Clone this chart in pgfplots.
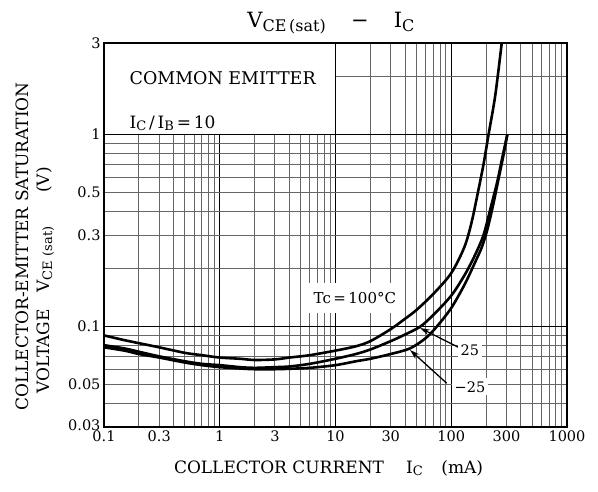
\documentclass[border=0pt]{standalone}
\usepackage{fontspec}
\setmainfont{DejaVu Serif}
\usepackage{pgfplots}
\pgfplotsset{compat=1.18}
\usetikzlibrary{arrows.meta}

% lowered smaller letters, as in V_CE(sat) and I_C
\newcommand{\sub}[2][12bp]{\raisebox{-0.3ex}{\fontsize{#1}{#1}\selectfont #2}}

\begin{document}
\begin{tikzpicture}[font=\fontsize{14.5bp}{17bp}\selectfont]
\begin{axis}[
    name=a,
    xmode=log, ymode=log,
    scale only axis, width=463bp, height=384bp,
    xmin=0.1, xmax=1000, ymin=0.03, ymax=3,
    xtick={0.1,1,10,100,1000}, xticklabels={0.1,1,10,100,1000},
    extra x ticks={0.3,3,30,300}, extra x tick labels={0.3,3,30,300},
    minor xtick={0.2,0.3,0.4,0.5,0.6,0.7,0.8,0.9,2,3,4,5,6,7,8,9,
                 20,30,40,50,60,70,80,90,200,300,400,500,600,700,800,900},
    ytick={0.1,1}, yticklabels={0.1,1},
    extra y ticks={0.03,0.05,0.3,0.5,3},
    extra y tick labels={\raisebox{4bp}{0.03},0.05,0.3,0.5,3},
    minor ytick={0.04,0.05,0.06,0.07,0.08,0.09,0.2,0.3,0.4,0.5,0.6,0.7,0.8,0.9,2},
    extra x tick style={grid=none}, extra y tick style={grid=none},
    grid=both,
    major grid style={black, line width=1.1bp},
    minor grid style={black!60, line width=1bp},
    major tick length=0pt, minor tick length=0pt,
    axis line style={line width=2.4bp},
    /pgf/number format/assume math mode=true,
    title={V\sub[16bp]{CE\,(sat)}\hspace{1.2em}−\hspace{1.2em}I\sub[16bp]{C}},
    title style={font=\fontsize{21bp}{23bp}\selectfont, at={(axis description cs:0.49,1.0)}, anchor=south},
    xlabel={COLLECTOR CURRENT\hspace{1.3em}I\sub[13bp]{C}\hspace{1.1em}(mA)},
    xlabel style={font=\fontsize{17bp}{20bp}\selectfont, at={(axis description cs:0.485,-0.107)}, anchor=center},
    ylabel={COLLECTOR-EMITTER SATURATION\\\hspace*{1em}VOLTAGE\hspace{1em}V\sub[13bp]{CE (sat)}\hspace{2em}(V)},
    ylabel style={font=\fontsize{17bp}{21bp}\selectfont, align=left, at={(axis description cs:-0.10,0.47)}, anchor=south},
]
% Tc = 100 C
\addplot[black, line width=2.6bp, smooth] coordinates {
(0.1,0.090)(0.15,0.085)(0.2,0.082)(0.3,0.078)(0.5,0.073)(0.7,0.071)(1,0.069)
(1.5,0.068)(2,0.067)(3,0.0675)(4,0.069)(6,0.071)(10,0.075)(15,0.079)(20,0.084)
(30,0.097)(40,0.11)(50,0.122)(70,0.148)(100,0.19)(130,0.26)(150,0.35)(170,0.50)
(190,0.70)(210,1.0)(240,1.6)(273,3.0)
};
% Tc = 25 C
\addplot[black, line width=2.6bp, smooth] coordinates {
(0.1,0.080)(0.15,0.077)(0.2,0.074)(0.3,0.070)(0.5,0.066)(0.7,0.064)(1,0.063)
(1.5,0.0615)(2,0.061)(3,0.0615)(4,0.062)(6,0.064)(10,0.068)(15,0.072)(20,0.076)
(30,0.084)(40,0.091)(54,0.100)(70,0.115)(100,0.145)(130,0.185)(160,0.235)
(190,0.30)(220,0.42)(250,0.57)(275,0.75)(305,1.0)
};
% Tc = -25 C
\addplot[black, line width=2.6bp, smooth] coordinates {
(0.1,0.078)(0.15,0.075)(0.2,0.072)(0.3,0.069)(0.5,0.065)(0.7,0.063)(1,0.0615)
(1.5,0.0605)(2,0.060)(3,0.060)(4,0.0603)(6,0.061)(10,0.063)(15,0.066)(20,0.068)
(30,0.072)(44,0.077)(60,0.087)(75,0.10)(100,0.125)(130,0.165)(160,0.215)
(184,0.26)(205,0.32)(230,0.43)(255,0.58)(280,0.76)(305,1.0)
};

% blank text panel in the upper left
\fill[white] (axis cs:0.1,1) rectangle (axis cs:10,3);
\draw[line width=1.1bp] (axis cs:10,3) -- (axis cs:10,1) -- (axis cs:0.1,1);
\draw[line width=2.4bp] (axis cs:0.1,1) -- (axis cs:0.1,3) -- (axis cs:10,3);
\node[anchor=base west, inner sep=0pt, font=\fontsize{17.5bp}{20bp}\selectfont]
    at (axis description cs:0.055,0.893) {COMMON EMITTER};
\node[anchor=base west, inner sep=0pt, font=\fontsize{17bp}{20bp}\selectfont]
    at (axis description cs:0.055,0.778) {I\sub[13bp]{C}\,/\,I\sub[13bp]{B}\,=\,10};

% curve labels
\draw[line width=1.3bp, -{Stealth[length=10bp,width=6bp]}] (axis cs:119,0.0773) -- (axis cs:53.7,0.0984);
\draw[line width=1.3bp, -{Stealth[length=10bp,width=6bp]}] (axis cs:91.4,0.0507) -- (axis cs:44,0.0756);
\node[fill=white, inner xsep=8bp, inner ysep=9bp, font=\fontsize{15bp}{17bp}\selectfont]
    at (axis cs:14.7,0.141) {Tc\,=\,100°C};
\node[fill=white, inner sep=3bp] at (axis cs:145,0.0755) {25};
\node[fill=white, inner sep=3bp] at (axis cs:145,0.0486) {−25};
\end{axis}
\pgfresetboundingbox
\path[use as bounding box] ([shift={(-104bp,-65bp)}]a.south west) rectangle ([shift={(31bp,43bp)}]a.north east);
\end{tikzpicture}
\end{document}
